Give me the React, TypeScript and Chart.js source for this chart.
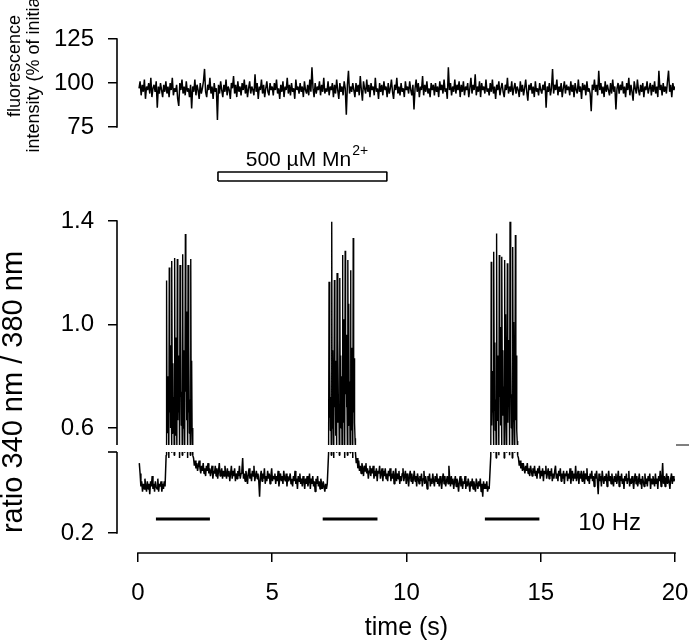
import React, { useEffect, useRef } from "react";
import { Chart, registerables } from "chart.js";

Chart.register(...registerables);

const FONT_FAMILY = '"Liberation Sans", Arial, Helvetica, sans-serif';

// ---------------- axes ----------------
const TIME_MIN = -0.78;
const TIME_MAX = 20;
const TIME_TICKS = [0, 5, 10, 15, 20];
const FLUO_TICKS = [75, 100, 125];
const RATIO_HI_TICKS = [0.6, 1.0, 1.4];
const RATIO_LO_TICKS = [0.2];

// ---------------- top trace: fluorescence intensity (% of initial) ----------------
const FLUO_START = 0.04;
const FLUO_DT = 0.04;
const fluoValues = [
  97, 101, 93, 99, 95, 102, 91, 98, 96, 100, 94, 103, 92, 97, 99, 95, 101, 86, 98, 94, 100, 96, 92, 99, 95,
  101, 94, 98, 92, 100, 96, 103, 93, 97, 95, 99, 91, 87, 100, 96, 102, 94, 98, 93, 101, 95, 97, 92, 99, 85.5,
  98, 95, 102, 93, 99, 96, 91, 100, 94, 97, 101, 108, 95, 92, 99, 96, 103, 94, 98, 91, 100, 95, 97, 79, 99,
  94, 101, 96, 92, 99, 95, 102, 93, 98, 96, 91, 100, 97, 104, 94, 99, 92, 101, 95, 98, 93, 100, 96, 102, 94,
  99, 92, 97, 101, 94, 98, 96, 93, 105, 95, 100, 91, 98, 96, 102, 94, 99, 92, 97, 101, 95, 93, 100, 96, 98,
  93, 100, 96, 102, 94, 97, 91, 99, 95, 101, 92, 98, 96, 103, 94, 99, 93, 100, 95, 97, 91, 102, 96, 98, 94,
  100, 95, 98, 92, 101, 96, 94, 99, 93, 102, 95, 109, 97, 92, 100, 94, 98, 96, 101, 93, 99, 95, 103, 94, 97,
  95, 101, 93, 98, 96, 100, 92, 99, 94, 102, 96, 91, 100, 95, 98, 93, 101, 97, 82, 99, 107, 94, 98, 95, 100,
  96, 92, 100, 95, 99, 93, 104, 96, 90, 101, 97, 94, 102, 95, 99, 92, 100, 96, 98, 93, 103, 95, 97, 91, 100,
  95, 99, 93, 101, 96, 98, 92, 100, 94, 97, 102, 95, 91, 99, 96, 103, 94, 98, 93, 100, 95, 97, 92, 101, 96,
  98, 94, 101, 96, 93, 99, 85, 97, 102, 95, 100, 92, 98, 96, 104, 93, 99, 95, 101, 94, 97, 92, 100, 96, 99,
  93, 100, 95, 98, 92, 101, 96, 99, 94, 102, 95, 97, 91, 109, 96, 100, 93, 98, 95, 102, 94, 99, 96, 101, 92,
  99, 95, 101, 93, 98, 96, 100, 92, 97, 103, 94, 99, 96, 105, 93, 98, 95, 101, 92, 100, 96, 98, 94, 102, 95,
  97, 93, 100, 95, 102, 94, 98, 91, 99, 96, 101, 93, 97, 100, 95, 92, 99, 96, 103, 94, 98, 95, 101, 93, 97,
  100, 94, 98, 96, 92, 101, 95, 99, 93, 97, 102, 95, 90, 99, 96, 100, 94, 98, 92, 101, 95, 97, 93, 100, 96,
  94, 99, 96, 101, 86, 98, 95, 100, 93, 97, 108, 94, 99, 96, 102, 93, 98, 95, 100, 92, 97, 101, 94, 99, 96,
  98, 93, 101, 95, 99, 92, 100, 96, 94, 102, 95, 98, 91, 100, 96, 99, 93, 101, 95, 97, 94, 84, 99, 96, 102,
  95, 99, 93, 107, 96, 100, 94, 98, 92, 101, 95, 99, 96, 93, 100, 94, 102, 95, 98, 85, 97, 100, 94, 99, 96,
  101, 94, 98, 92, 100, 96, 103, 93, 99, 95, 90, 101, 97, 94, 102, 96, 93, 99, 95, 100, 92, 98, 96, 101, 94,
  97, 100, 93, 99, 95, 101, 94, 98, 92, 107, 96, 99, 93, 100, 95, 98, 94, 101, 107, 95, 99, 92, 100, 96, 98,
];

// ---------------- bottom trace: ratio 340/380, in segments ----------------
const SEG_START = [0.05, 1.05, 2.07, 7.1, 8.13, 13.14, 14.17];
const SEG_DT = [0.03, 1 / 60, 0.03, 1 / 60, 0.03, 1 / 60, 0.03];

const ratioBase0 = [
  .47, .43, .38, .40, .36, .39, .37, .41, .38, .36, .40, .37, .39, .35, .40, .38, .42, .37, .39, .36,
  .40, .38, .37, .41, .36, .39, .38, .40, .36, .39, .37, .40, .38,
];
const ratioBurst1 = [
  .50, 1.17, .62, .80, .58, .70,
  .49, 1.22, .66, .92, .60, .75,
  .51, 1.245, .58, .85, .64, .72,
  .50, 1.257, .70, .95, .57, .68,
  .52, 1.253, .63, .88, .66, .79,
  .49, 1.23, .72, 1.00, .61, .74,
  .50, 1.272, .60, .90, .69, .83,
  .51, 1.35, .74, 1.05, .63, .77,
  .49, 1.23, .66, .92, .58, .71,
  .50, 1.253, .64, .86, .60, .55,
  .50,
];
const ratioDecay1 = [
  .49, .46, .48, .45, .47, .44, .46, .48, .45, .43, .46, .44, .47, .43, .45, .42, .46, .44, .47, .43,
  .45, .42, .44, .46, .41, .44, .43, .46, .42, .45, .41, .44, .47, .42, .43, .45, .41, .44, .42, .46,
  .43, .41, .45, .42, .44, .40, .43, .46, .41, .44, .42, .45, .40, .43, .41, .44, .42, .46, .41, .43,
  .44, .49, .41, .43, .40, .44, .42, .39, .43, .45, .41, .43, .40, .44, .42, .46, .40, .42, .44, .41,
  .43, .40, .34, .42, .44, .40, .43, .41, .45, .39, .42, .40, .44, .41, .43, .39, .42, .45, .40, .42,
  .41, .43, .39, .42, .40, .44, .38, .41, .43, .40, .42, .39, .44, .41, .40, .43, .38, .42, .40, .41,
  .43, .39, .41, .38, .42, .40, .44, .39, .41, .37, .42, .40, .43, .39, .41, .38, .42, .40, .37, .41,
  .39, .42, .38, .40, .43, .37, .41, .39, .42, .38, .40, .36, .41, .39, .42, .38, .40, .37, .41, .39,
  .37, .40, .38, .36, .39, .37, .39,
];
const ratioBurst2 = [
  .51, 1.165, .64, .83, .59, .72,
  .50, 1.397, .60, .90, .65, .70,
  .49, 1.172, .68, .86, .57, .76,
  .51, 1.199, .62, .94, .66, .69,
  .50, 1.18, .71, .88, .60, .80,
  .52, 1.269, .65, 1.02, .62, .75,
  .49, 1.285, .73, .96, .68, .84,
  .50, 1.249, .61, 1.08, .64, .78,
  .51, 1.21, .69, .91, .59, .73,
  .49, 1.334, .66, .87, .62, .56,
  .51,
];
const ratioDecay2 = [
  .47, .49, .45, .48, .44, .46, .43, .47, .45, .42, .46, .44, .47, .43, .45, .41, .44, .46, .42, .45,
  .43, .46, .41, .44, .42, .45, .40, .44, .43, .46, .41, .43, .45, .40, .44, .42, .45, .41, .43, .40,
  .44, .42, .45, .40, .43, .41, .44, .39, .42, .45, .40, .43, .41, .44, .39, .42, .40, .43, .45, .40,
  .42, .44, .39, .43, .41, .38, .42, .44, .40, .43, .39, .41, .44, .40, .42, .38, .43, .41, .39, .42,
  .40, .43, .38, .41, .44, .39, .42, .40, .37, .42, .40, .43, .38, .41, .39, .43, .40, .38, .42, .40,
  .43, .39, .41, .38, .42, .40, .37, .41, .43, .39, .42, .38, .40, .42, .39, .46, .41, .38, .42, .39,
  .41, .37, .40, .42, .38, .41, .39, .36, .40, .42, .38, .41, .37, .40, .39, .42, .37, .40, .38, .41,
  .39, .36, .40, .38, .41, .37, .40, .38, .36, .41, .39, .37, .40, .38, .41, .36, .39, .34, .40, .37,
  .39, .37, .40, .36, .38, .37,
];
const ratioBurst3 = [
  .50, 1.243, .61, .82, .66, .74,
  .51, 1.281, .67, .93, .59, .71,
  .49, 1.352, .63, .88, .70, .78,
  .50, 1.269, .72, .99, .61, .85,
  .52, 1.262, .65, .90, .68, .76,
  .49, 1.249, .70, 1.04, .63, .81,
  .51, 1.237, .62, .94, .71, .79,
  .50, 1.397, .75, .89, .60, .73,
  .49, 1.30, .68, 1.01, .64, .77,
  .51, 1.346, .63, .88, .59, .55,
  .50,
];
const ratioDecay3 = [
  .49, .46, .48, .45, .47, .44, .47, .45, .43, .46, .44, .47, .43, .45, .42, .46, .44, .42, .45, .43,
  .46, .42, .44, .41, .45, .43, .46, .41, .44, .42, .45, .40, .44, .43, .46, .41, .43, .45, .41, .44,
  .42, .45, .40, .43, .41, .44, .46, .41, .43, .40, .44, .42, .45, .40, .43, .41, .44, .39, .43, .42,
  .44, .40, .43, .41, .45, .39, .42, .44, .40, .43, .41, .46, .40, .42, .44, .39, .43, .41, .44, .40,
  .42, .44, .39, .43, .41, .45, .40, .42, .39, .43, .41, .44, .40, .42, .38, .43, .41, .44, .40, .35,
  .43, .40, .42, .38, .44, .41, .39, .42, .40, .43, .38, .41, .44, .40, .42, .39, .43, .40, .38, .42,
  .40, .43, .39, .41, .44, .38, .42, .40, .43, .39, .41, .37, .42, .40, .43, .39, .41, .44, .38, .41,
  .39, .42, .40, .37, .41, .43, .39, .42, .38, .40, .43, .39, .41, .37, .42, .40, .38, .43, .39, .41,
  .38, .42, .40, .43, .37, .41, .39, .42, .40, .38, .43, .39, .41, .37, .42, .40, .44, .38, .41, .47,
  .39, .42, .38, .41, .43, .39, .42, .40, .37, .41, .43, .39, .42, .40, .41,
];

// ---------------- annotations ----------------
const MN_ON = 2.98;
const MN_OFF = 9.27;
const MN_BAR_LEVELS = [0, 1];
const STIM_ON = [0.67, 6.88, 12.92];
const STIM_OFF = [2.68, 8.92, 14.95];
const STIM_LEVEL = 0.254;
const STIM_LABEL_TIME = 16.4;

// ---------------- build series ----------------
const fluoPts = fluoValues.map((v, i) => ({ x: FLUO_START + i * FLUO_DT, y: v }));
const ratioSegs = [ratioBase0, ratioBurst1, ratioDecay1, ratioBurst2, ratioDecay2, ratioBurst3, ratioDecay3];
const ratioPts = ratioSegs.flatMap((vals, s) => vals.map((v, j) => ({ x: SEG_START[s] + j * SEG_DT[s], y: v })));
const stimPts = STIM_ON.flatMap((on, i) => [
  { x: on, y: STIM_LEVEL },
  { x: STIM_OFF[i], y: STIM_LEVEL },
  { x: STIM_OFF[i], y: null },
]);
const mnPts = [
  { x: MN_ON, y: MN_BAR_LEVELS[0] },
  { x: MN_OFF, y: MN_BAR_LEVELS[0] },
  { x: MN_OFF, y: MN_BAR_LEVELS[1] },
  { x: MN_ON, y: MN_BAR_LEVELS[1] },
  { x: MN_ON, y: MN_BAR_LEVELS[0] },
];

const W = 689;
const H = 644;
const AXIS_BOX_W = 117;
const X_AXIS_H = 91;

const lineDs = (data: any[], yAxisID: string, width = 1) => ({
  data,
  xAxisID: "x",
  yAxisID,
  borderColor: "#000",
  backgroundColor: "#000",
  borderWidth: width,
  pointRadius: 0,
  pointHoverRadius: 0,
  tension: 0,
  fill: false,
  spanGaps: false,
  borderJoinStyle: "bevel",
});

const tickFont = { family: FONT_FAMILY, size: 24 };

const yAxis = (min: number, max: number, ticks: number[] | null, weight: number, stackWeight: number, decimals = 0) => ({
  type: "linear",
  position: "left",
  stack: "panels",
  stackWeight,
  weight,
  min,
  max,
  afterBuildTicks: (s: any) => {
    if (ticks) s.ticks = ticks.map((v) => ({ value: v }));
  },
  afterFit: (s: any) => {
    s.width = AXIS_BOX_W;
    s.paddingTop = 0;
    s.paddingBottom = 0;
  },
  grid: {
    display: !!ticks,
    drawOnChartArea: false,
    drawTicks: true,
    tickLength: 9,
    color: "#000",
    lineWidth: 1.5,
  },
  border: { display: false },
  ticks: {
    display: !!ticks,
    padding: 14,
    color: "#000",
    font: tickFont,
    callback: (v: any) => Number(v).toFixed(decimals),
  },
});

const decorPlugin = {
  id: "decor",
  afterDraw(chart: any) {
    const { ctx, scales, chartArea } = chart;
    const { x, yF, yMn, yHi, yLo } = scales;
    const seg = (x1: number, y1: number, x2: number, y2: number) => {
      ctx.beginPath();
      ctx.moveTo(x1, y1);
      ctx.lineTo(x2, y2);
      ctx.stroke();
    };
    ctx.save();
    ctx.strokeStyle = "#000";
    ctx.lineWidth = 1.6;
    const ax = chartArea.left;
    // y axis segments
    seg(ax, yF.getPixelForValue(FLUO_TICKS[0]) + 0.8, ax, yF.getPixelForValue(FLUO_TICKS[2]) - 0.8);
    seg(ax, yHi.bottom, ax, yHi.getPixelForValue(RATIO_HI_TICKS[2]) - 0.8);
    seg(ax, yLo.getPixelForValue(RATIO_LO_TICKS[0]) + 0.8, ax, yLo.top);
    seg(ax - 9, yLo.top, ax, yLo.top);
    // x axis
    seg(x.getPixelForValue(TIME_TICKS[0]) - 0.8, x.top, x.getPixelForValue(TIME_TICKS[4]) + 0.8, x.top);
    // break mark on the right
    ctx.lineWidth = 1;
    seg(chartArea.right + 1, yHi.bottom, chartArea.right + 14, yHi.bottom);

    // texts
    ctx.fillStyle = "#000";
    ctx.textBaseline = "middle";
    ctx.textAlign = "center";
    ctx.font = `25px ${FONT_FAMILY}`;
    ctx.fillText("time (s)", x.getPixelForValue(10), 628);

    // stimulation label
    ctx.textAlign = "left";
    ctx.font = `24px ${FONT_FAMILY}`;
    ctx.fillText("10 Hz", x.getPixelForValue(STIM_LABEL_TIME), yLo.getPixelForValue(STIM_LEVEL) + 4);

    // Mn label
    const mnMain = "500 µM Mn";
    ctx.font = `21px ${FONT_FAMILY}`;
    const wMain = ctx.measureText(mnMain).width;
    ctx.font = `14px ${FONT_FAMILY}`;
    const wSup = ctx.measureText("2+").width;
    const mnCx = x.getPixelForValue((MN_ON + MN_OFF) / 2) + 4;
    const mnY = yMn.getPixelForValue(MN_BAR_LEVELS[1]) - 12;
    const left = mnCx - (wMain + wSup) / 2;
    ctx.font = `21px ${FONT_FAMILY}`;
    ctx.fillText(mnMain, left, mnY);
    ctx.font = `14px ${FONT_FAMILY}`;
    ctx.fillText("2+", left + wMain + 1, mnY - 9);

    // rotated axis titles
    const vtext = (text: string, cx: number, cy: number, size: number) => {
      ctx.save();
      ctx.translate(cx, cy);
      ctx.rotate(-Math.PI / 2);
      ctx.textAlign = "center";
      ctx.textBaseline = "middle";
      ctx.font = `${size}px ${FONT_FAMILY}`;
      ctx.fillText(text, 0, 0);
      ctx.restore();
    };
    vtext("fluorescence", 15, 66, 18);
    vtext("intensity (% of initial)", 34, 70, 18);
    vtext("ratio 340 nm / 380 nm", 14, 392, 29);
    ctx.restore();
  },
};

export default function App() {
  const ref = useRef<HTMLCanvasElement>(null);
  useEffect(() => {
    const canvas = ref.current;
    if (!canvas) return;
    const chart = new Chart(canvas, {
      type: "line",
      data: {
        datasets: [
          lineDs(fluoPts, "yF", 1.5),
          lineDs(mnPts, "yMn", 1.6),
          lineDs(ratioPts, "yHi", 1.4),
          lineDs(ratioPts, "yLo", 1.5),
          lineDs(stimPts, "yLo", 3),
        ] as any,
      },
      options: {
        responsive: false,
        devicePixelRatio: 1,
        animation: false,
        events: [],
        layout: { padding: { left: 0, right: 14, top: 0, bottom: 0 } },
        plugins: { legend: { display: false }, tooltip: { enabled: false }, title: { display: false } },
        scales: {
          x: {
            type: "linear",
            position: "bottom",
            min: TIME_MIN,
            max: TIME_MAX,
            afterBuildTicks: (s: any) => {
              s.ticks = TIME_TICKS.map((v) => ({ value: v }));
            },
            afterFit: (s: any) => {
              s.height = X_AXIS_H;
              s.paddingLeft = 0;
              s.paddingRight = 0;
            },
            grid: { display: true, drawOnChartArea: false, drawTicks: true, tickLength: 9, color: "#000", lineWidth: 1.5 },
            border: { display: false },
            ticks: { padding: 17, maxRotation: 0, autoSkip: false, color: "#000", font: tickFont, callback: (v: any) => String(v) },
          },
          yF: yAxis(61.9, 147.2, FLUO_TICKS, 5, 150, 0),
          yMn: yAxis(-2.11, 3.44, null, 4, 50),
          yHi: yAxis(0.5343, 1.4812, RATIO_HI_TICKS, 3, 245, 1),
          yGap: yAxis(0, 1, null, 2, 7),
          yLo: yAxis(0.1227, 0.513, RATIO_LO_TICKS, 1, 101, 1),
        } as any,
      },
      plugins: [decorPlugin],
    } as any);
    return () => chart.destroy();
  }, []);
  return (
    <div style={{ position: "absolute", left: 0, top: 0, width: W, height: H, background: "#fff" }}>
      <canvas ref={ref} width={W} height={H} style={{ display: "block", width: W, height: H }} />
    </div>
  );
}
